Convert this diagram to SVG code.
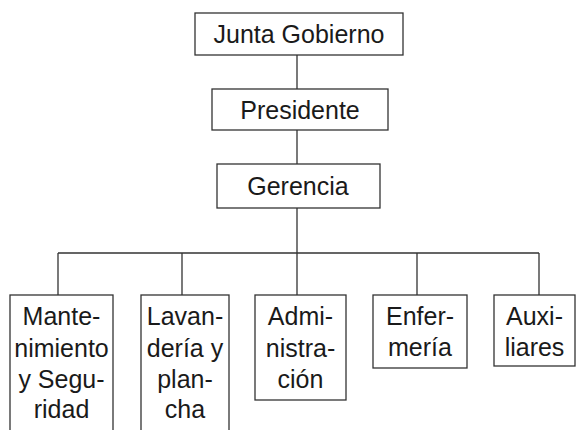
<svg xmlns="http://www.w3.org/2000/svg" width="576" height="430" viewBox="0 0 576 430">
<style>
.box{fill:#fff;stroke:#333;stroke-width:1.3}
.ln{fill:none;stroke:#333;stroke-width:1.3}
text{font-family:"Liberation Sans",Arial,Helvetica,sans-serif;font-size:25px;fill:#1a1a1a;text-anchor:middle}
</style>
<rect width="576" height="430" fill="#fff"/>
<g id="connectors">
<path class="ln" d="M297 55V89M297 130V164M297 208V253M58 253H539M58 253V295M182 253V295M297 253V295M417 253V295M539 253V295"/>
</g>
<g id="junta"><rect class="box" x="195" y="13" width="208" height="42"/><text x="299" y="43">Junta Gobierno</text></g>
<g id="presidente"><rect class="box" x="212" y="89" width="176" height="41"/><text x="300" y="119">Presidente</text></g>
<g id="gerencia"><rect class="box" x="217" y="164" width="163" height="44"/><text x="298" y="195">Gerencia</text></g>
<g id="mantenimiento"><rect class="box" x="10" y="295" width="103" height="140"/><text x="61.5" y="325">Mante-</text><text x="61.5" y="357">nimiento</text><text x="61.5" y="388">y Segu-</text><text x="61.5" y="418">ridad</text></g>
<g id="lavanderia"><rect class="box" x="141" y="295" width="88" height="140"/><text x="185" y="325">Lavan-</text><text x="185" y="357">dería y</text><text x="185" y="388">plan-</text><text x="185" y="418">cha</text></g>
<g id="administracion"><rect class="box" x="255" y="295" width="91" height="105"/><text x="300.5" y="325">Admi-</text><text x="300.5" y="357">nistra-</text><text x="300.5" y="388">ción</text></g>
<g id="enfermeria"><rect class="box" x="373" y="295" width="94" height="73"/><text x="420" y="325">Enfer-</text><text x="420" y="356">mería</text></g>
<g id="auxiliares"><rect class="box" x="494" y="295" width="81" height="71"/><text x="534.5" y="325">Auxi-</text><text x="534.5" y="356">liares</text></g>
</svg>
